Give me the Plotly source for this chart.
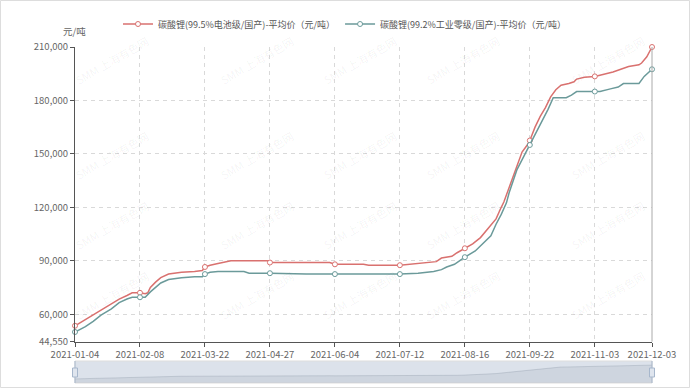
import plotly.graph_objects as go
import pandas as pd

# ---------------- data ----------------
holidays = ["2021-02-11", "2021-02-12", "2021-02-15", "2021-02-16", "2021-02-17",
            "2021-04-05", "2021-05-03", "2021-05-04", "2021-05-05", "2021-06-14",
            "2021-09-20", "2021-09-21", "2021-10-01", "2021-10-04", "2021-10-05",
            "2021-10-06", "2021-10-07"]
trade_days = [d.strftime("%Y-%m-%d") for d in pd.bdate_range("2021-01-04", "2021-12-03")
              if d.strftime("%Y-%m-%d") not in holidays]

tick_dates = ["2021-01-04", "2021-02-08", "2021-03-22", "2021-04-27", "2021-06-04",
              "2021-07-12", "2021-08-16", "2021-09-22", "2021-11-03", "2021-12-03"]

battery_name = "碳酸锂(99.5%电池级/国产)-平均价（元/吨）"
battery_dates = ["2021-01-04", "2021-01-08", "2021-01-13", "2021-01-18", "2021-01-22",
                 "2021-01-27", "2021-02-01", "2021-02-03", "2021-02-08", "2021-02-10",
                 "2021-02-18", "2021-02-19", "2021-02-23", "2021-02-25", "2021-03-02",
                 "2021-03-09", "2021-03-16", "2021-03-19", "2021-03-22", "2021-03-24",
                 "2021-03-29", "2021-04-06", "2021-04-26", "2021-04-27", "2021-06-02",
                 "2021-06-04", "2021-06-22", "2021-06-24", "2021-07-12", "2021-07-22",
                 "2021-07-30", "2021-08-03", "2021-08-09", "2021-08-11", "2021-08-16",
                 "2021-08-19", "2021-08-24", "2021-08-27", "2021-09-01", "2021-09-03",
                 "2021-09-06", "2021-09-08", "2021-09-10", "2021-09-13", "2021-09-15",
                 "2021-09-17", "2021-09-22", "2021-09-24", "2021-09-28", "2021-09-30",
                 "2021-10-11", "2021-10-13", "2021-10-15", "2021-10-20", "2021-10-22",
                 "2021-10-25", "2021-10-28", "2021-11-03", "2021-11-08", "2021-11-12",
                 "2021-11-17", "2021-11-22", "2021-11-26", "2021-11-29", "2021-12-01",
                 "2021-12-03"]
battery_prices = [53500, 57000, 59500, 62500, 66000,
                  68500, 70500, 72000, 72000, 71500,
                  72000, 75000, 78000, 80500, 82500,
                  83500, 84000, 84500, 86500, 87500,
                  88500, 90000, 90000, 89000, 89000,
                  88000, 88000, 87500, 87500, 88500,
                  89500, 91500, 92500, 94500, 97000,
                  99500, 103000, 108000, 113500, 120000,
                  123000, 131000, 139000, 143000, 151000,
                  155000, 157500, 165000, 171000, 176000,
                  182000, 186000, 188500, 189500, 190500,
                  192000, 193000, 193500, 194500, 196000,
                  197500, 199000, 200000, 201000, 204500,
                  210000]

industrial_name = "碳酸锂(99.2%工业零级/国产)-平均价（元/吨）"
industrial_dates = ["2021-01-04", "2021-01-08", "2021-01-13", "2021-01-18", "2021-01-22",
                    "2021-01-27", "2021-02-01", "2021-02-03", "2021-02-08", "2021-02-10",
                    "2021-02-19", "2021-02-23", "2021-02-25", "2021-03-02", "2021-03-09",
                    "2021-03-16", "2021-03-19", "2021-03-22", "2021-03-24", "2021-03-29",
                    "2021-04-13", "2021-04-15", "2021-04-27", "2021-05-20", "2021-06-04",
                    "2021-07-12", "2021-07-21", "2021-07-29", "2021-08-03", "2021-08-05",
                    "2021-08-10", "2021-08-12", "2021-08-16", "2021-08-20", "2021-08-25",
                    "2021-08-30", "2021-09-01", "2021-09-03", "2021-09-07", "2021-09-08",
                    "2021-09-13", "2021-09-16", "2021-09-22", "2021-09-28", "2021-10-08",
                    "2021-10-12", "2021-10-19", "2021-10-21", "2021-10-25", "2021-11-03",
                    "2021-11-05", "2021-11-11", "2021-11-16", "2021-11-18", "2021-11-26",
                    "2021-11-30", "2021-12-03"]
industrial_prices = [50000, 53000, 56000, 59500, 63000,
                     66500, 68500, 69500, 69500, 69500,
                     72500, 75000, 77500, 79500, 80500,
                     81000, 81000, 82500, 83500, 84000,
                     84000, 83000, 83000, 82500, 82500,
                     82500, 83000, 84000, 85000, 86500,
                     88000, 90000, 92000, 95500, 99500,
                     104000, 110500, 116000, 122500, 128000,
                     141000, 149500, 155000, 166500, 175000,
                     181500, 181500, 183000, 185000, 185000,
                     185000, 186500, 187500, 189500, 189500,
                     193500, 197500]

y_ticks = [44550, 60000, 90000, 120000, 150000, 180000, 210000]
y_tick_text = [f"{v:,}" for v in y_ticks]
y_unit = "元/吨"
watermark = "SMM 上海有色网"

# ---------------- styling ----------------
W, H = 690, 389
L, R, T, B = 75, 38, 47, 5
PW, PH = W - L - R, H - T - B
RED = "#d9716f"
TEAL = "#6b9a9a"
FONT = "Noto Sans CJK SC, Microsoft YaHei, sans-serif"


def px(x):
    return (x - L) / PW


def py(y):
    return 1 - (y - T) / PH


main_bottom = py(341.7)
slider_dom = [py(383), py(361)]

fig = go.Figure()


def add_series(dates, prices, name, color):
    sel = [i for i, d in enumerate(dates) if d in tick_dates]
    fig.add_trace(go.Scatter(
        x=dates, y=prices, name=name, mode="lines+markers",
        line=dict(color=color, width=1.5),
        marker=dict(symbol="circle", size=5, color="white", line=dict(color=color, width=1)),
        selectedpoints=sel,
        selected=dict(marker=dict(opacity=1)),
        unselected=dict(marker=dict(opacity=0)),
        cliponaxis=False, xaxis="x", yaxis="y", hoverinfo="skip"))


add_series(battery_dates, battery_prices, battery_name, RED)
add_series(industrial_dates, industrial_prices, industrial_name, TEAL)

# data zoom shadow (first series)
span = max(battery_prices) - min(battery_prices)
y2_range = [min(battery_prices) - 0.3 * span, max(battery_prices) + 0.3 * span]
fig.add_trace(go.Scatter(
    x=battery_dates, y=battery_prices, mode="lines", fill="tozeroy",
    fillcolor="rgba(47,69,84,0.08)", line=dict(color="rgba(47,69,84,0.25)", width=0.6),
    showlegend=False, xaxis="x2", yaxis="y2", hoverinfo="skip"))

axis_common = dict(type="category", categoryorder="array", categoryarray=trade_days,
                   range=[0, len(trade_days) - 1])
GRID = "#d9d9d9"
DASH = "4px,4px"

fig.update_layout(
    width=W, height=H,
    margin=dict(l=L, r=R, t=T, b=B),
    paper_bgcolor="white", plot_bgcolor="white",
    font=dict(family=FONT, size=9.5, color="#666"),
    xaxis=dict(**axis_common, domain=[0, 1], anchor="y",
               tickmode="array", tickvals=tick_dates, ticktext=tick_dates,
               showgrid=True, gridcolor=GRID, griddash=DASH, gridwidth=1,
               showline=True, linecolor="#555", linewidth=1,
               ticks="outside", ticklen=4, tickcolor="#555",
               tickfont=dict(size=9.5, color="#666"), zeroline=False, automargin=False),
    yaxis=dict(range=[44550, 210000], domain=[main_bottom, 1], anchor="x",
               tickmode="array", tickvals=y_ticks, ticktext=y_tick_text,
               showgrid=True, gridcolor=GRID, griddash=DASH, gridwidth=1,
               showline=True, linecolor="#555", linewidth=1,
               ticks="outside", ticklen=4, tickcolor="#555",
               tickfont=dict(size=9.5, color="#666"), zeroline=False, automargin=False),
    xaxis2=dict(**axis_common, domain=[0, 1], anchor="y2", visible=False),
    yaxis2=dict(range=y2_range, domain=slider_dom, anchor="x2", visible=False),
    legend=dict(orientation="h", x=px(345), xanchor="center", y=py(24), yanchor="middle",
                font=dict(size=9, color="#555"), bgcolor="rgba(0,0,0,0)",
                itemwidth=30, tracegroupgap=0),
    showlegend=True,
)

shapes = [
    # slider background
    dict(type="rect", xref="x2 domain", yref="y2 domain", x0=0, x1=1, y0=0, y1=1,
         fillcolor="rgba(167,183,204,0.4)", line=dict(color="#dddddd", width=1), layer="below"),
    # right edge line of plot
    dict(type="line", xref="x domain", yref="y domain", x0=1, x1=1, y0=0, y1=1,
         line=dict(color="#aaaaaa", width=1)),
    # outer border
    dict(type="rect", xref="paper", yref="paper", x0=px(0.5), x1=px(689.5),
         y0=py(387.5), y1=py(0.5), line=dict(color="#dddddd", width=1)),
]
for hx in (0, 1):
    shapes.append(dict(type="line", xref="x2 domain", yref="y2 domain", x0=hx, x1=hx, y0=0, y1=1,
                       line=dict(color="#a7b7cc", width=1)))
    shapes.append(dict(type="rect", xref="paper", yref="paper",
                       x0=px(L + hx * PW - 2.5), x1=px(L + hx * PW + 2.5),
                       y0=py(377), y1=py(368),
                       fillcolor="#dfe5ee", line=dict(color="#a7b7cc", width=1)))
fig.update_layout(shapes=shapes)

annotations = [dict(text=y_unit, xref="paper", yref="paper", x=px(74), y=py(31),
                    xanchor="center", yanchor="middle", showarrow=False,
                    font=dict(size=9.5, color="#666"))]
for wx in (70, 215, 360, 505, 650):
    for wy in (30, 125, 225, 325):
        annotations.append(dict(text=watermark, xref="paper", yref="paper", x=px(wx), y=py(wy),
                                showarrow=False, textangle=-30,
                                font=dict(size=11, color="rgba(0,0,0,0.05)")))
fig.update_layout(annotations=annotations)

fig.write_html("out.html", config={"displayModeBar": False},
               post_script="document.body.style.margin='0';")
